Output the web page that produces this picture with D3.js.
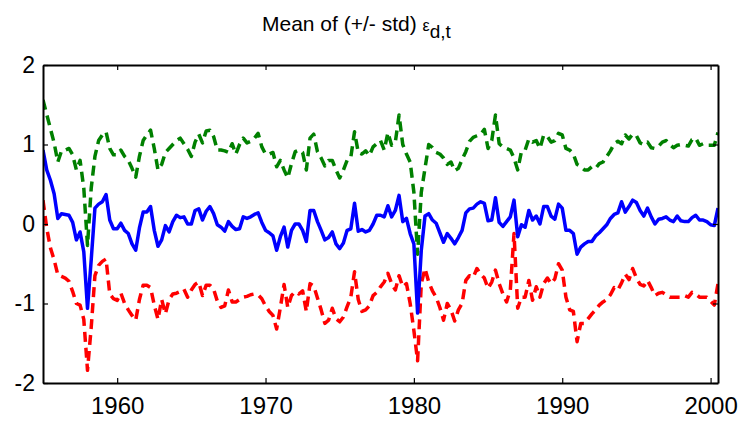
<!DOCTYPE html>
<html>
<head>
<meta charset="utf-8">
<script src="https://cdn.jsdelivr.net/npm/d3@7"></script>
<style>
  body { margin: 0; background: #fff; }
  svg text { font-family: "Liberation Sans", Arial, Helvetica, sans-serif; fill: #000; }
</style>
</head>
<body>
<div id="chart"></div>
<script>
// quarterly series, first quarter = 1955.0
const startYear = 1955;

// mean (blue, solid)
const meanVals = [
  0.93, 0.68, 0.55, 0.38, 0.07, 0.13, 0.12, 0.11, 0.02, -0.20,
  -0.10, -0.35, -1.06, -0.45, 0.20, 0.25, 0.28, 0.37, 0.05, -0.06,
  -0.06, 0.01, -0.08, -0.12, -0.25, -0.33, -0.05, 0.15, 0.15, 0.22,
  -0.08, -0.28, -0.20, -0.02, -0.10, 0.03, 0.11, 0.08, 0.09, 0.00,
  0.00, 0.17, 0.19, 0.05, 0.16, 0.22, 0.13, -0.01, -0.04, -0.09,
  0.03, -0.03, -0.07, -0.06, 0.09, 0.07, 0.09, 0.12, 0.14, 0.02,
  -0.08, -0.11, -0.15, -0.33, -0.16, -0.04, -0.29, -0.08, 0.00, 0.00,
  -0.08, -0.22, 0.17, 0.17, 0.03, -0.08, -0.20, -0.17, -0.10, -0.25,
  -0.31, -0.24, -0.08, -0.06, 0.26, -0.09, -0.07, -0.10, -0.08, 0.00,
  0.11, 0.11, 0.09, 0.23, 0.09, 0.17, 0.36, 0.03, 0.07, -0.12,
  -0.25, -1.12, -0.33, 0.10, 0.13, 0.05, 0.01, -0.11, -0.23, -0.12,
  -0.18, -0.25, -0.17, -0.08, 0.14, 0.19, 0.20, 0.25, 0.28, 0.26,
  0.04, 0.05, 0.33, 0.02, -0.03, 0.03, 0.09, 0.30, -0.16, -0.01,
  -0.04, 0.17, 0.05, 0.10, 0.00, 0.22, 0.22, 0.10, 0.06, 0.25,
  0.20, -0.08, -0.08, -0.12, -0.38, -0.29, -0.25, -0.22, -0.22, -0.15,
  -0.11, -0.06, -0.01, 0.07, 0.12, 0.14, 0.28, 0.15, 0.22, 0.30,
  0.27, 0.17, 0.10, 0.20, 0.09, 0.00, 0.06, 0.07, 0.09, 0.05,
  0.03, 0.10, 0.04, 0.03, 0.03, 0.08, 0.11, 0.05, 0.05, 0.03,
  -0.01, -0.02, 0.20
];

// mean + std (green, dashed)
const upperVals = [
  1.56, 1.38, 1.20, 1.02, 0.78, 0.92, 0.93, 0.95, 0.87, 0.68,
  0.80, 0.45, -0.27, 0.45, 0.85, 1.05, 1.12, 1.16, 0.95, 0.87,
  0.87, 0.93, 0.85, 0.80, 0.70, 0.59, 0.85, 1.05, 1.12, 1.18,
  0.95, 0.68, 0.75, 0.90, 0.95, 1.00, 1.05, 1.08, 1.01, 0.94,
  0.85, 1.03, 1.13, 1.02, 1.17, 1.18, 1.10, 0.93, 0.93, 0.92,
  0.90, 1.01, 0.88, 1.00, 1.08, 1.02, 1.04, 1.08, 1.14, 0.97,
  0.88, 0.88, 0.90, 0.72, 0.80, 0.68, 0.58, 0.76, 0.91, 0.93,
  0.90, 0.68, 1.08, 1.13, 0.91, 0.83, 0.73, 0.80, 0.80, 0.68,
  0.58, 0.68, 0.80, 0.84, 1.16, 0.90, 0.88, 0.92, 0.86, 0.97,
  1.01, 1.05, 0.93, 1.15, 0.99, 1.03, 1.37, 1.00, 0.88, 0.78,
  0.40, -0.38, 0.40, 0.70, 1.00, 0.96, 0.90, 0.88, 0.83, 0.75,
  0.78, 0.67, 0.70, 0.81, 0.91, 1.04, 1.09, 1.11, 1.13, 1.19,
  0.95, 1.05, 1.37, 1.01, 0.97, 0.95, 0.93, 0.83, 0.68, 0.91,
  0.93, 1.07, 1.03, 1.05, 0.95, 1.12, 1.10, 1.03, 1.05, 1.14,
  1.12, 0.95, 0.93, 0.88, 0.75, 0.72, 0.68, 0.68, 0.72, 0.70,
  0.76, 0.78, 0.85, 0.92, 1.01, 1.04, 1.01, 1.12, 1.07, 1.13,
  1.11, 1.02, 1.00, 1.03, 0.96, 0.95, 0.98, 1.03, 1.05, 1.00,
  0.96, 0.99, 1.00, 0.99, 0.98, 1.06, 1.08, 0.99, 1.01, 0.99,
  0.99, 0.99, 1.15
];

// mean - std (red, dashed)
const lowerVals = [
  0.30, -0.05, -0.30, -0.45, -0.64, -0.66, -0.68, -0.72, -0.85, -1.00,
  -1.02, -1.20, -1.84, -1.30, -0.65, -0.52, -0.47, -0.44, -0.88, -0.94,
  -0.96, -0.87, -1.00, -1.08, -1.15, -1.21, -0.95, -0.77, -0.77, -0.80,
  -1.02, -1.20, -0.95, -1.13, -0.95, -0.88, -0.87, -0.85, -0.82, -0.92,
  -0.83, -0.76, -0.73, -0.90, -0.77, -0.77, -0.82, -0.97, -1.05, -1.03,
  -0.83, -0.98, -0.98, -0.95, -0.92, -0.91, -0.89, -0.88, -0.89, -0.94,
  -1.03, -1.10, -1.15, -1.32, -1.05, -0.76, -1.05, -0.90, -0.85, -0.88,
  -0.84, -1.10, -0.75, -0.78, -0.93, -1.08, -1.25, -1.21, -1.06, -1.19,
  -1.23, -1.17, -1.04, -0.92, -0.60, -0.95, -1.10, -1.08, -1.03, -0.90,
  -0.86, -0.79, -0.73, -0.62, -0.75, -0.83, -0.65, -0.79, -0.75, -1.00,
  -1.34, -1.72, -0.75, -0.56, -0.73, -0.84, -0.92, -1.05, -1.21, -1.00,
  -1.08, -1.22, -1.08, -1.00, -0.71, -0.65, -0.67, -0.56, -0.63, -0.68,
  -0.81, -0.73, -0.58, -0.75, -0.88, -0.98, -0.83, -0.12, -1.06, -0.92,
  -0.92, -0.71, -0.96, -0.79, -0.92, -0.75, -0.68, -0.75, -0.69, -0.50,
  -0.58, -0.92, -1.08, -1.10, -1.48, -1.25, -1.25, -1.19, -1.13, -1.08,
  -1.02, -0.98, -0.95, -0.89, -0.80, -0.83, -0.74, -0.63, -0.70, -0.56,
  -0.68, -0.76, -0.78, -0.71, -0.80, -0.90, -0.87, -0.86, -0.89, -0.92,
  -0.92, -0.92, -0.92, -0.90, -0.92, -0.86, -0.88, -0.92, -0.92, -0.92,
  -0.97, -1.02, -0.75
];

const xTicks = [1960, 1970, 1980, 1990, 2000];
const yTicks = [-2, -1, 0, 1, 2];

const width = 744;
const height = 421;
const margin = { top: 65, right: 26, bottom: 38, left: 43 };
const innerW = width - margin.left - margin.right;
const innerH = height - margin.top - margin.bottom;
const tickLen = 5;

const x = d3.scaleLinear()
  .domain([1955, 2000.5])
  .range([0, innerW]);

const y = d3.scaleLinear()
  .domain([-2, 2])
  .range([innerH, 0]);

const svg = d3.select('#chart')
  .append('svg')
  .attr('width', width)
  .attr('height', height);

const g = svg.append('g')
  .attr('transform', `translate(${margin.left},${margin.top})`);

// title with TeX-like subscript
const title = svg.append('text')
  .attr('x', 262)
  .attr('y', 31)
  .attr('text-anchor', 'start')
  .style('font-size', '21px');
title.append('tspan').text('Mean of (+/- std) ');
title.append('tspan').text('ε').style('font-size', '16px');
title.append('tspan').attr('dy', 7).style('font-size', '19px').text('d,t');

// series
const line = d3.line()
  .x((d, i) => x(startYear + i / 4))
  .y(d => y(d));

const series = [
  { vals: upperVals, color: '#008000', dash: '10,6' },
  { vals: lowerVals, color: '#ff0000', dash: '10,6' },
  { vals: meanVals, color: '#0000ff', dash: null }
];

g.append('clipPath').attr('id', 'clip')
  .append('rect').attr('width', innerW).attr('height', innerH);

series.forEach(s => {
  g.append('path')
    .datum(s.vals)
    .attr('clip-path', 'url(#clip)')
    .attr('fill', 'none')
    .attr('stroke', s.color)
    .attr('stroke-width', 3.5)
    .attr('stroke-linejoin', 'round')
    .attr('stroke-dasharray', s.dash)
    .attr('d', line);
});

// axes, MATLAB style: ticks inside on all four sides
const axisBottom = d3.axisBottom(x).tickValues(xTicks).tickFormat(d3.format('d'))
  .tickSizeInner(-tickLen).tickSizeOuter(0).tickPadding(14);
const axisTop = d3.axisTop(x).tickValues(xTicks).tickFormat('')
  .tickSizeInner(-tickLen).tickSizeOuter(0);
const axisLeft = d3.axisLeft(y).tickValues(yTicks).tickFormat(d => d)
  .tickSizeInner(-tickLen).tickSizeOuter(0).tickPadding(8);
const axisRight = d3.axisRight(y).tickValues(yTicks).tickFormat('')
  .tickSizeInner(-tickLen).tickSizeOuter(0);

const gx = g.append('g').attr('transform', `translate(0,${innerH})`).call(axisBottom);
g.append('g').call(axisTop);
const gy = g.append('g').call(axisLeft);
g.append('g').attr('transform', `translate(${innerW},0)`).call(axisRight);

g.selectAll('.domain').attr('stroke', '#000').attr('stroke-width', 2);
g.selectAll('.tick line').attr('stroke', '#000').attr('stroke-width', 1.2);
gx.selectAll('text').style('font-size', '24px').attr('fill', '#000');
gy.selectAll('text').style('font-size', '23px').attr('fill', '#000');
</script>
</body>
</html>
